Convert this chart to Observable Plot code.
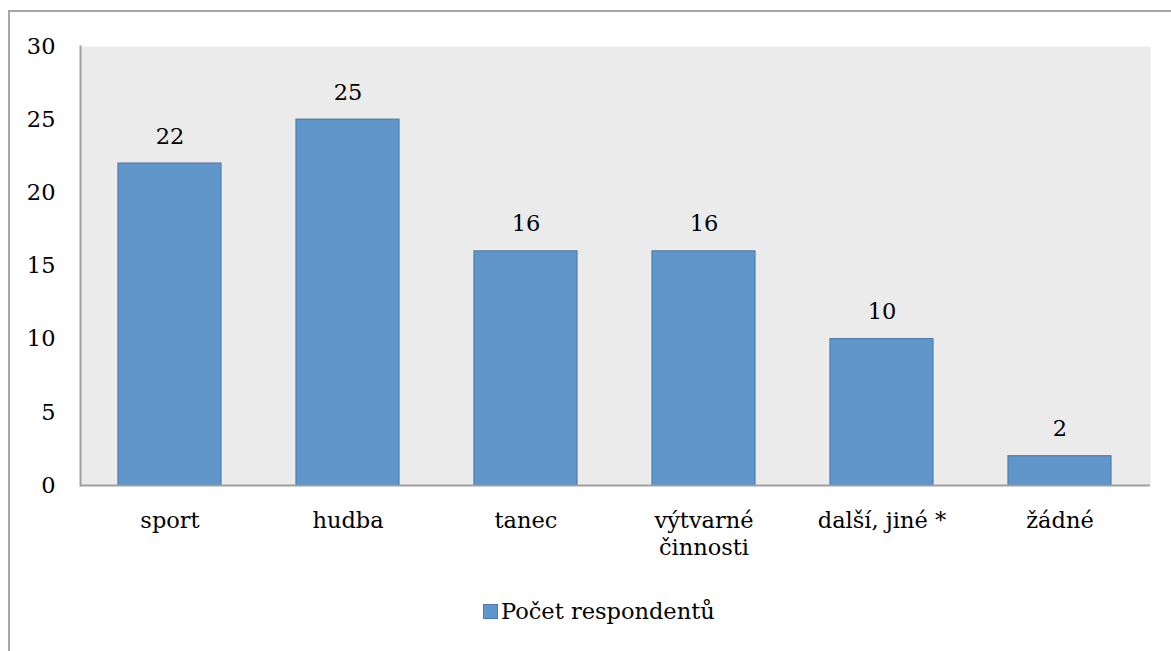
<!DOCTYPE html>
<html>
<head>
<meta charset="utf-8">
<script src="https://cdn.jsdelivr.net/npm/d3@7"></script>
<script src="https://cdn.jsdelivr.net/npm/@observablehq/plot@0.6"></script>
<style>
  html, body { margin: 0; padding: 0; background: #fff; }
  #wrap { position: relative; width: 1171px; height: 651px; overflow: hidden; font-family: "DejaVu Serif", serif; }
  #frame { position: absolute; left: 8px; top: 10px; width: 1300px; height: 800px; border-top: 2px solid #a6a6a6; border-left: 2px solid #a6a6a6; }
  #chart { position: absolute; left: 0; top: 0; }
  #legend { position: absolute; left: 483px; top: 598px; display: flex; align-items: center; font-size: 22.5px; color: #000; }
  #legend .sw { width: 13px; height: 13px; background: #6096c9; border: 1px solid #4a7db4; margin-right: 3px; margin-top: 1px; }
</style>
</head>
<body>
<div id="wrap">
  <div id="frame"></div>
  <div id="chart"></div>
  <div id="legend"></div>
</div>
<script>
const categories = ["sport", "hudba", "tanec", "výtvarné\nčinnosti", "další, jiné *", "žádné"];
const values = [22, 25, 16, 16, 10, 2];
const yTicks = [0, 5, 10, 15, 20, 25, 30];
const seriesName = "Počet respondentů";

const data = categories.map((c, i) => ({category: c, value: values[i]}));
const FS = 22.5;

const chart = Plot.plot({
  width: 1171,
  height: 580,
  marginLeft: 80,
  marginRight: 21,
  marginTop: 46,
  marginBottom: 95,
  style: {fontFamily: "'DejaVu Serif', serif", fontSize: FS + "px", color: "#000", background: "transparent", overflow: "visible"},
  x: {domain: categories, paddingInner: 0.42, paddingOuter: 0.21, label: null},
  y: {domain: [0, 30], label: null},
  marks: [
    Plot.frame({fill: "#ebebeb", stroke: null}),
    Plot.axisY({ticks: yTicks, tickSize: 0, tickPadding: 25, label: null, fontSize: FS}),
    Plot.axisX({tickSize: 0, tickPadding: 24, label: null, fontSize: FS, lineHeight: 1.18}),
    Plot.barY(data, {x: "category", y: "value", fill: "#6096c9", stroke: "#4a7db4", strokeWidth: 1.2}),
    Plot.text(data, {x: "category", y: "value", text: d => String(d.value), lineAnchor: "bottom", dy: -20, fontSize: FS, fill: "#000"}),
    Plot.ruleY([0], {stroke: "#a0a0a0", strokeWidth: 2}),
    Plot.frame({anchor: "left", stroke: "#a0a0a0", strokeWidth: 2})
  ]
});
document.getElementById("chart").appendChild(chart);

const legend = document.getElementById("legend");
legend.innerHTML = '<div class="sw"></div><span></span>';
legend.querySelector("span").textContent = seriesName;
</script>
</body>
</html>
